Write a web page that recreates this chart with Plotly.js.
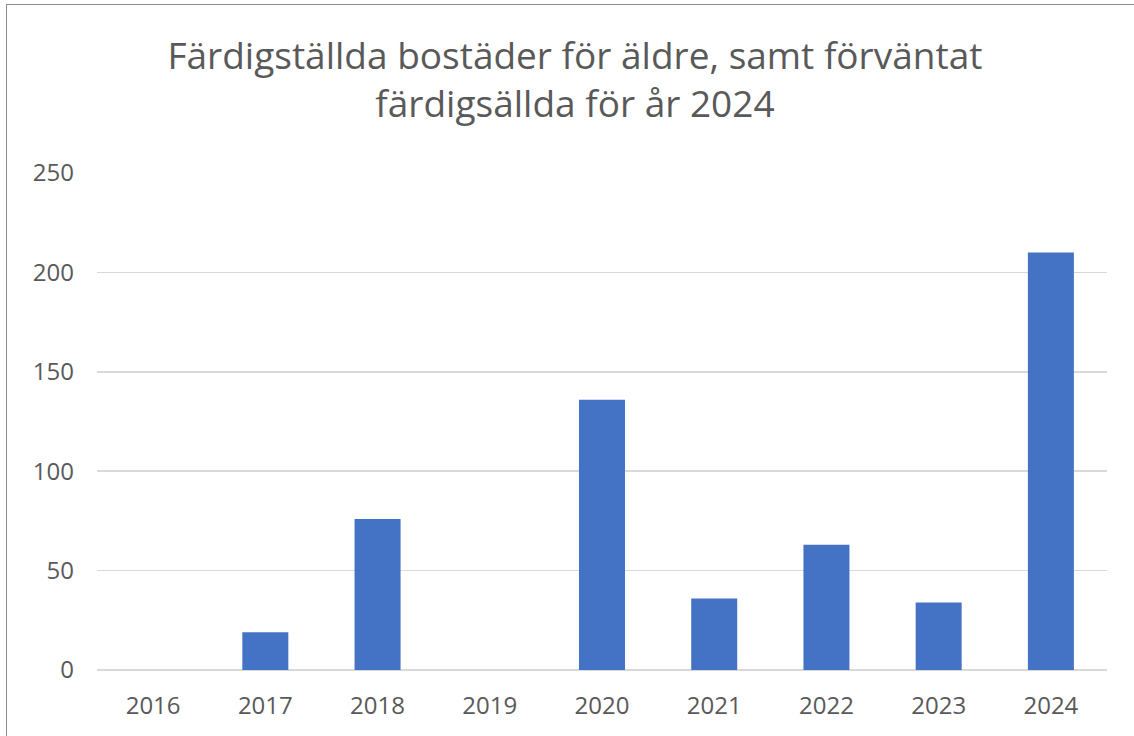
<!DOCTYPE html>
<html>
<head>
<meta charset="utf-8">
<script src="https://cdn.plot.ly/plotly-3.0.1.min.js"></script>
<style>
html,body{margin:0;padding:0;background:#fff;overflow:hidden;}
#chart{width:1134px;height:736px;position:absolute;left:0;top:0;}
#frame{position:absolute;left:6px;top:4px;width:1140px;height:760px;border:1.5px solid #8c8c8c;pointer-events:none;}
</style>
</head>
<body>
<div id="chart"></div>
<div id="frame"></div>
<script>
const years = ['2016','2017','2018','2019','2020','2021','2022','2023','2024'];
const values = [0, 19, 76, 0, 136, 36, 63, 34, 210];
const yTicks = [0, 50, 100, 150, 200, 250];

const trace = {
  type: 'bar',
  x: years,
  y: values,
  marker: {color: '#4472C4'},
  hoverinfo: 'x+y'
};

const layout = {
  width: 1134,
  height: 736,
  paper_bgcolor: '#ffffff',
  plot_bgcolor: '#ffffff',
  margin: {l: 97, r: 27, t: 173, b: 66},
  bargap: 0.59,
  showlegend: false,
  font: {family: 'Open Sans, sans-serif', color: '#595959'},
  title: {
    text: 'Färdigställda bostäder för äldre, samt förväntat<br>färdigsällda för år 2024',
    font: {family: 'Open Sans, sans-serif', size: 37, color: '#595959'},
    x: 0.507, xref: 'container', xanchor: 'center',
    y: 1 - 69/736, yref: 'container', yanchor: 'top'
  },
  xaxis: {
    type: 'category',
    tickfont: {size: 24, color: '#595959'},
    showgrid: false,
    showline: false,
    zeroline: false,
    ticks: '',
    ticklabelstandoff: 19
  },
  yaxis: {
    range: [0, 250],
    tickvals: yTicks,
    ticktext: yTicks.map(String),
    tickfont: {size: 24, color: '#595959'},
    showgrid: true,
    gridcolor: '#d9d9d9',
    gridwidth: 1.5,
    zeroline: true,
    zerolinecolor: '#d9d9d9',
    zerolinewidth: 1.5,
    showline: false,
    ticks: '',
    ticklabelstandoff: 22
  }
};

Plotly.newPlot('chart', [trace], layout, {displayModeBar: false, staticPlot: true});
</script>
</body>
</html>
